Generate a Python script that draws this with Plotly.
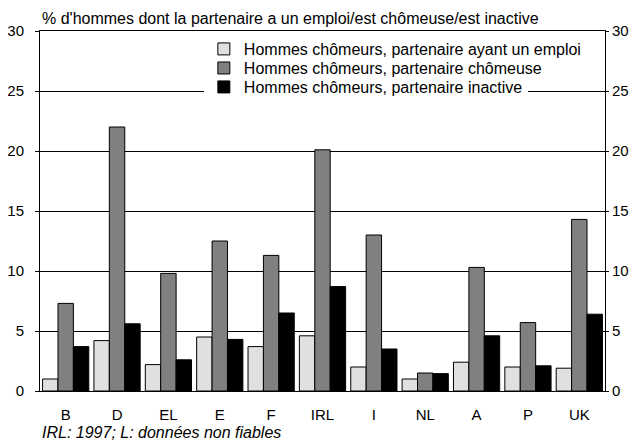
import plotly.graph_objects as go

categories = ["B", "D", "EL", "E", "F", "IRL", "I", "NL", "A", "P", "UK"]
partner_employed = [1.0, 4.2, 2.2, 4.5, 3.7, 4.6, 2.0, 1.0, 2.4, 2.0, 1.9]
partner_unemployed = [7.3, 22.0, 9.8, 12.5, 11.3, 20.1, 13.0, 1.5, 10.3, 5.7, 14.3]
partner_inactive = [3.7, 5.6, 2.6, 4.3, 6.5, 8.7, 3.5, 1.45, 4.6, 2.1, 6.4]

series_names = [
    "Hommes chômeurs, partenaire ayant un emploi",
    "Hommes chômeurs, partenaire chômeuse",
    "Hommes chômeurs, partenaire inactive",
]
colors = ["#E0E0E0", "#808080", "#000000"]
# bottom row legend is drawn first (white box hides the gridline), the others on top of it
legend_ids = ["legend2", "legend3", "legend"]
legend_y = [0.95, 0.897, 0.8444]
legend_bg = ["rgba(255,255,255,0)", "rgba(255,255,255,0)", "#FFFFFF"]

FONT = "Liberation Sans, Arial, sans-serif"
FS = 15
FL = 16

fig = go.Figure()
for name, vals, col, lid in zip(series_names, [partner_employed, partner_unemployed, partner_inactive], colors, legend_ids):
    fig.add_trace(go.Bar(
        x=categories, y=vals, name=name, legend=lid,
        marker=dict(color=col, line=dict(color="#000000", width=1)),
    ))

# invisible trace to carry the right-hand axis
fig.add_trace(go.Scatter(x=[], y=[], yaxis="y2", showlegend=False, hoverinfo="skip"))

def legend_cfg(y, bg):
    return dict(
        x=0.29, y=y, xanchor="left", yanchor="middle",
        bgcolor=bg, borderwidth=0,
        font=dict(family=FONT, size=FL),
        itemwidth=30, tracegroupgap=0,
    )

fig.update_layout(
    width=629, height=435,
    margin=dict(l=32, r=32, t=23, b=52, autoexpand=False),
    paper_bgcolor="white", plot_bgcolor="white",
    font=dict(family=FONT, size=FS, color="#000000"),
    barmode="group", bargap=0.1, bargroupgap=0,
    showlegend=True,
    legend2=legend_cfg(legend_y[0], legend_bg[0]),
    legend3=legend_cfg(legend_y[1], legend_bg[1]),
    legend=legend_cfg(legend_y[2], legend_bg[2]),
    xaxis=dict(
        showgrid=False, showline=True, linecolor="#000000", linewidth=1,
        mirror=True, ticks="", tickfont=dict(size=FS), ticklabelstandoff=10,
        automargin=False,
    ),
    yaxis=dict(
        range=[0, 30], tickvals=[0, 5, 10, 15, 20, 25, 30],
        showgrid=True, gridcolor="#000000", gridwidth=1,
        showline=True, linecolor="#000000", linewidth=1,
        ticks="outside", ticklen=4, tickcolor="#000000",
        tickfont=dict(size=FS), zeroline=False, ticklabelstandoff=8,
        automargin=False,
    ),
    yaxis2=dict(
        range=[0, 30], tickvals=[0, 5, 10, 15, 20, 25, 30],
        overlaying="y", side="right", showgrid=False,
        showline=True, linecolor="#000000", linewidth=1,
        ticks="outside", ticklen=3, tickcolor="#000000",
        tickfont=dict(size=FS), zeroline=False, automargin=False,
    ),
    annotations=[
        dict(text="% d'hommes dont la partenaire a un emploi/est chômeuse/est inactive",
             xref="paper", yref="paper", x=0, y=1, xanchor="left", yanchor="middle",
             yshift=12.5, showarrow=False, font=dict(family=FONT, size=FL)),
        dict(text="<i>IRL: 1997; L: données non fiables</i>",
             xref="paper", yref="paper", x=0, y=0, xanchor="left", yanchor="middle",
             yshift=-41, showarrow=False, font=dict(family=FONT, size=FL)),
    ],
)

fig.write_html("out.html")
